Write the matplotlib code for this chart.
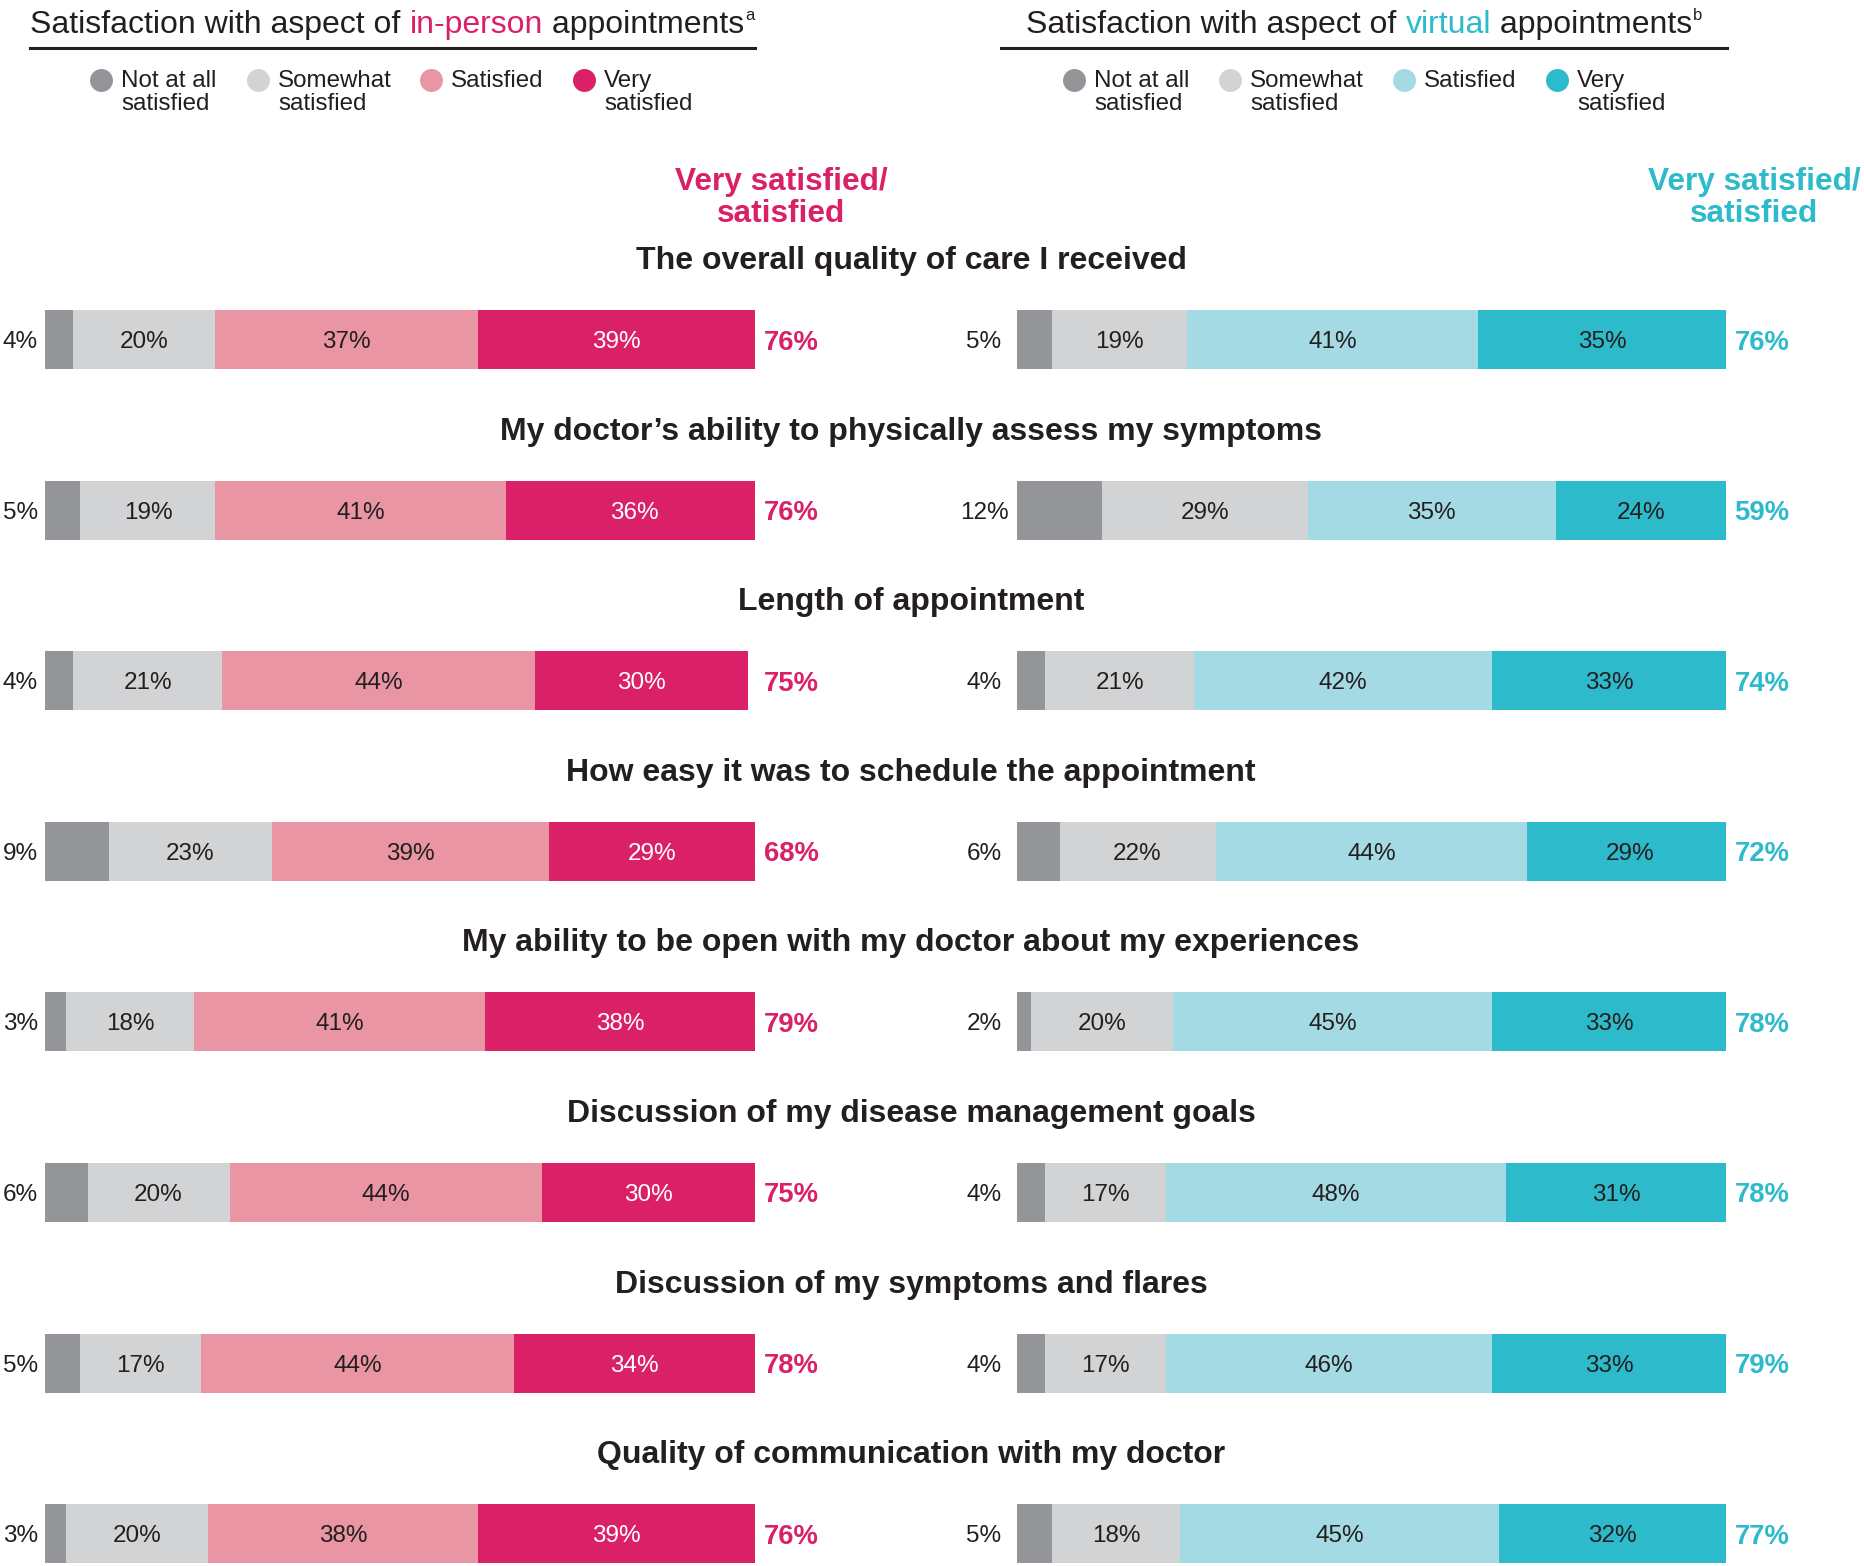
import matplotlib
matplotlib.use("Agg")
import matplotlib.pyplot as plt
import matplotlib.transforms as mtransforms
from matplotlib.lines import Line2D

plt.rcParams['font.family'] = ['Liberation Sans', 'DejaVu Sans']

# ---- data ----
categories = [
    "The overall quality of care I received",
    "My doctor\u2019s ability to physically assess my symptoms",
    "Length of appointment",
    "How easy it was to schedule the appointment",
    "My ability to be open with my doctor about my experiences",
    "Discussion of my disease management goals",
    "Discussion of my symptoms and flares",
    "Quality of communication with my doctor",
]
legend_labels = ["Not at all\nsatisfied", "Somewhat\nsatisfied", "Satisfied", "Very\nsatisfied"]

inperson_not = [4, 5, 4, 9, 3, 6, 5, 3]
inperson_some = [20, 19, 21, 23, 18, 20, 17, 20]
inperson_sat = [37, 41, 44, 39, 41, 44, 44, 38]
inperson_very = [39, 36, 30, 29, 38, 30, 34, 39]
inperson_total = [76, 76, 75, 68, 79, 75, 78, 76]

virtual_not = [5, 12, 4, 6, 2, 4, 4, 5]
virtual_some = [19, 29, 21, 22, 20, 17, 17, 18]
virtual_sat = [41, 35, 42, 44, 45, 48, 46, 45]
virtual_very = [35, 24, 33, 29, 33, 31, 33, 32]
virtual_total = [76, 59, 74, 72, 78, 78, 79, 77]

# ---- style ----
GREY_D = '#939598'
GREY_L = '#d1d3d4'
PINK_L = '#e995a4'
PINK_D = '#da2167'
CYAN_L = '#a4dae3'
CYAN_D = '#2dbacb'
TXT = '#231f20'

W, H = 1865, 1566
fig = plt.figure(figsize=(W / 100, H / 100), dpi=100)

row0, pitch = 339.5, 170.6   # pixel centre of first bar row, row spacing
ylim = ((H - row0) / pitch, -row0 / pitch)
bar_h = 59 / pitch


def make_axes(x0, x1):
    ax = fig.add_axes([x0 / W, 0, (x1 - x0) / W, 1])
    ax.set_xlim(0, 100)
    ax.set_ylim(*ylim)
    ax.axis('off')
    return ax


def draw_panel(ax, vals, colors, txtcols, total, tot_color, not_off):
    rows = range(len(categories))
    left = [0] * len(categories)
    for k, (v, c, tc) in enumerate(zip(vals, colors, txtcols)):
        ax.barh(rows, v, left=left, height=bar_h, color=c, edgecolor='none')
        for i in rows:
            if k == 0:
                ax.text(not_off, i, f"{v[i]}%", ha='center', va='center_baseline',
                        fontsize=17.5, color=TXT)
            else:
                ax.text(left[i] + v[i] / 2, i, f"{v[i]}%", ha='center',
                        va='center_baseline', fontsize=17.5, color=tc)
        left = [l + x for l, x in zip(left, v)]
    for i in rows:
        ax.text(101.2, i, f"{total[i]}%", ha='left', va='center_baseline',
                fontsize=19.8, fontweight='bold', color=tot_color)


axL = make_axes(45, 755)
axR = make_axes(1017, 1726)

draw_panel(axL, [inperson_not, inperson_some, inperson_sat, inperson_very],
           [GREY_D, GREY_L, PINK_L, PINK_D], [TXT, TXT, TXT, 'white'],
           inperson_total, PINK_D, -3.5)
draw_panel(axR, [virtual_not, virtual_some, virtual_sat, virtual_very],
           [GREY_D, GREY_L, CYAN_L, CYAN_D], [TXT, TXT, TXT, TXT],
           virtual_total, CYAN_D, -4.65)

# category titles between the panels
blend = mtransforms.blended_transform_factory(fig.transFigure, axL.transData)
for i, cat in enumerate(categories):
    fig.text(911 / W, i - 78.5 / pitch, cat, transform=blend, ha='center',
             va='center', fontsize=23, fontweight='bold', color=TXT)

# "Very satisfied/ satisfied" headers
for cx, col in [(781, PINK_D), (1754, CYAN_D)]:
    fig.text(cx / W, 1 - 198 / H, "Very satisfied/\nsatisfied", ha='center',
             va='center', fontsize=22.8, fontweight='bold', color=col,
             linespacing=1.1)

# panel titles with coloured word and superscript
renderer = fig.canvas.get_renderer()


def text_w(s, **kw):
    t = fig.text(0, 0, s, **kw)
    w = t.get_window_extent(renderer).width
    t.remove()
    return w


def rich_title(cx, pieces, sup):
    base_y = 33
    full = "".join(p for p, _ in pieces)
    bar = text_w("|", fontsize=23)
    total = text_w(full, fontsize=23) + text_w(sup, fontsize=12)
    x = cx - total / 2
    prefix = ""
    for p, col in pieces:
        off = text_w(prefix + "|", fontsize=23) - bar if prefix else 0
        fig.text((x + off) / W, 1 - base_y / H, p, ha='left', va='baseline',
                 fontsize=23, color=col)
        prefix += p
    end = x + text_w(full, fontsize=23) + 1
    fig.text(end / W, 1 - (base_y - 13) / H, sup, ha='left', va='baseline',
             fontsize=12, color=TXT)


rich_title(392, [("Satisfaction with aspect of ", TXT), ("in-person", PINK_D),
                 (" appointments", TXT)], "a")
rich_title(1364, [("Satisfaction with aspect of ", TXT), ("virtual", CYAN_D),
                  (" appointments", TXT)], "b")

for x0, x1 in [(30, 755), (1001, 1727)]:
    fig.add_artist(Line2D([x0 / W, x1 / W], [1 - 48 / H, 1 - 48 / H],
                          transform=fig.transFigure, color=TXT, lw=2.2))

# legends
leg_x = [[101, 258, 431, 584], [1074, 1230, 1403.5, 1557]]
leg_cols = [[GREY_D, GREY_L, PINK_L, PINK_D], [GREY_D, GREY_L, CYAN_L, CYAN_D]]
for xs, cols in zip(leg_x, leg_cols):
    for x, c, lab in zip(xs, cols, legend_labels):
        fig.add_artist(Line2D([x / W], [1 - 79.5 / H], transform=fig.transFigure,
                              marker='o', markersize=15.5, color=c, lw=0))
        for j, line in enumerate(lab.split("\n")):
            fig.text((x + 20) / W, 1 - (81 + 23.5 * j) / H, line, ha='left',
                     va='center', fontsize=17.4, color=TXT)

fig.savefig("out.png", dpi=100)
